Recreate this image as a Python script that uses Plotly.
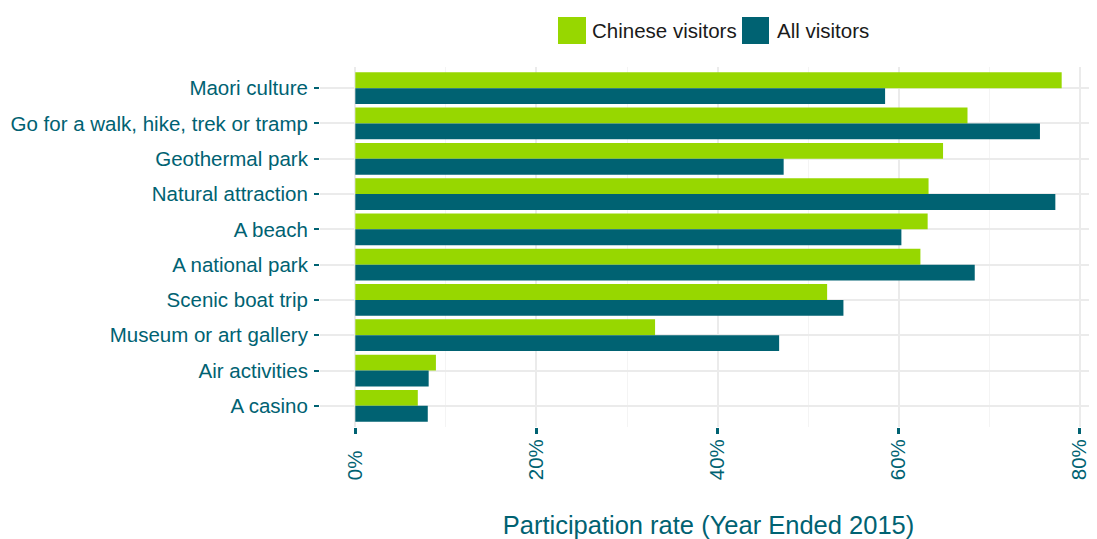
import plotly.graph_objects as go

categories = [
    "Maori culture",
    "Go for a walk, hike, trek or tramp",
    "Geothermal park",
    "Natural attraction",
    "A beach",
    "A national park",
    "Scenic boat trip",
    "Museum or art gallery",
    "Air activities",
    "A casino",
]
chinese_visitors = [78.0, 67.6, 64.9, 63.3, 63.2, 62.4, 52.1, 33.1, 8.9, 6.9]
all_visitors = [58.5, 75.6, 47.3, 77.3, 60.3, 68.4, 53.9, 46.8, 8.1, 8.0]
tick_values = [0, 20, 40, 60, 80]
tick_labels = ["0%", "20%", "40%", "60%", "80%"]
minor_tick_values = [10, 30, 50, 70]
series_names = ["Chinese visitors", "All visitors"]

GREEN = "#97D700"
TEAL = "#006272"
FONT = "Liberation Sans, Arial, sans-serif"

# page body has an 8px margin; compensate so the figure lands at the window's edges
OFF = 8
W, H = 1097 - OFF, 539 - OFF
ML, MR, MT, MB = 320 - OFF, 0, 67 - OFF, 112
PW = W - ML - MR
PH = H - MT - MB

# pad labels so rotated labels align at their start (bottom)
maxlen = max(len(t) for t in tick_labels)
padded = [t + "\u2007" * (maxlen - len(t)) for t in tick_labels]

fig = go.Figure()
fig.add_trace(go.Bar(y=categories, x=chinese_visitors, orientation="h",
                     name=series_names[0], marker=dict(color=GREEN, line=dict(width=0)),
                     showlegend=False))
fig.add_trace(go.Bar(y=categories, x=all_visitors, orientation="h",
                     name=series_names[1], marker=dict(color=TEAL, line=dict(width=0)),
                     showlegend=False))

xmax = max(max(chinese_visitors), max(all_visitors))
pad = xmax * 0.05

fig.update_layout(
    width=W, height=H,
    margin=dict(l=ML, r=MR, t=MT, b=MB, pad=0),
    paper_bgcolor="white", plot_bgcolor="white",
    barmode="group", bargap=0.1, bargroupgap=0,
    font=dict(family=FONT, color=TEAL, size=20),
    xaxis=dict(
        range=[-pad, xmax + pad],
        tickmode="array", tickvals=tick_values, ticktext=padded,
        tickangle=-90, ticks="outside", ticklen=6, tickwidth=3, tickcolor=TEAL,
        tickfont=dict(size=20.5, color=TEAL, family=FONT),
        showgrid=True, gridcolor="#EBEBEB", gridwidth=1.5,
        minor=dict(tickvals=minor_tick_values, showgrid=True, gridcolor="#F4F4F4", gridwidth=1, ticks=""),
        zeroline=False, showline=False, fixedrange=True,
        title=dict(text="Participation rate (Year Ended 2015)",
                   font=dict(size=25.5, color=TEAL, family=FONT), standoff=36),
        ticklabelstandoff=-3,
    ),
    yaxis=dict(
        categoryorder="array", categoryarray=categories,
        range=[len(categories) - 0.4, -0.6],
        ticks="outside", ticklen=5, tickwidth=2, tickcolor=TEAL,
        tickfont=dict(size=20.5, color=TEAL, family=FONT),
        showgrid=True, gridcolor="#EBEBEB", gridwidth=1.5,
        zeroline=False, showline=False, fixedrange=True,
        ticklabelstandoff=2,
    ),
)

# custom legend (reference pixel positions converted to paper coords)
def px_x(p):
    return (p - OFF - ML) / PW

def px_y(p):
    return (H - MB - (p - OFF)) / PH

legend_items = [
    (series_names[0], GREEN, 558, 586, 590),
    (series_names[1], TEAL, 742, 769, 775),
]
for name, col, x0, x1, tx in legend_items:
    fig.add_shape(type="rect", xref="paper", yref="paper",
                  x0=px_x(x0), x1=px_x(x1), y0=px_y(44), y1=px_y(17),
                  fillcolor=col, line=dict(width=0))
    fig.add_annotation(text=name, xref="paper", yref="paper",
                       x=px_x(tx), y=px_y(31), xanchor="left", yanchor="middle",
                       showarrow=False, font=dict(size=20.5, color="#1a1a1a", family=FONT))

fig.write_html("out.html")
